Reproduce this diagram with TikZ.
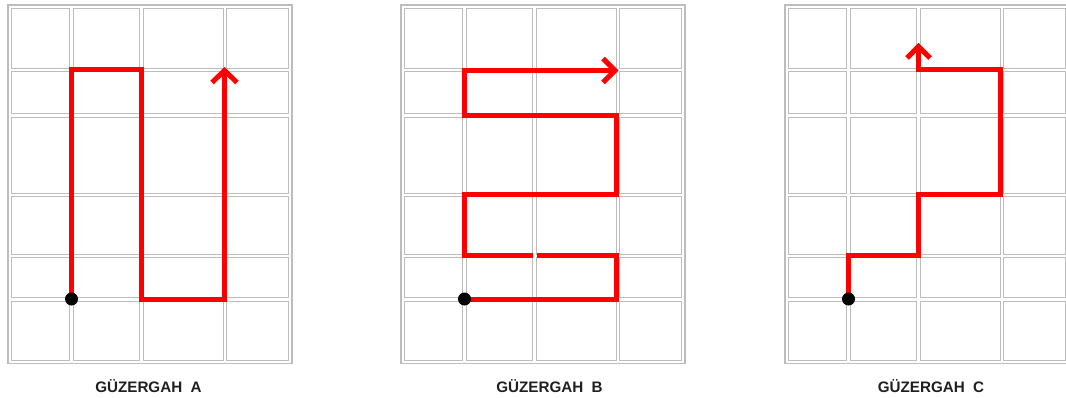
\documentclass[tikz,border=0pt]{standalone}
\usepackage{fontspec}
\setmainfont{Liberation Sans}
\begin{document}
\begin{tikzpicture}[x=1pt,y=-1pt,
  cell/.style={draw=black!26,line width=1.2pt},
  route/.style={draw=red,line width=5pt,line join=miter},
  tipv/.style={draw=red,line width=5pt,line join=miter,line cap=butt},
  startdot/.style={circle,fill=black,inner sep=0pt,minimum size=13pt},
  caption/.style={font=\bfseries\fontsize{15.2}{18}\selectfont,text=black!88,inner sep=0pt,anchor=base}]
\useasboundingbox (0,0) rectangle (1066,398);
\foreach \off in {0,393,777}{
  \begin{scope}[xshift=\off pt]
    \draw[cell] (8,5) rectangle (292,363.5);
    \foreach \xa/\xb in {9.5/71.5,71.5/141.5,141.5/225,225/290.5}
      \foreach \ya/\yb in {6.5/70,70/115.5,115.5/195,195/256,256/299.5,299.5/362.5}
        \draw[cell] (\xa+1.7,\ya+1.7) rectangle (\xb-1.7,\yb-1.7);
  \end{scope}
}
% Route A
\coordinate (sa) at (71.5,299);
\coordinate (ea) at (224.5,70.5);
\draw[route] (sa) -- (71.5,70) -- (141.5,70) -- (141.5,299) -- (224.5,299) -- (ea);
\draw[tipv] (212,82.5) -- (ea) -- (237,82.5);
\node[startdot] (da) at (sa) {};
% Route B
\begin{scope}[xshift=393pt]
\coordinate (sb) at (71.5,299);
\coordinate (eb) at (222,70.5);
\draw[route] (sb) -- (223.5,299) -- (223.5,256) -- (144,256);
\draw[route] (140,256) -- (71.5,256) -- (71.5,195) -- (223.5,195) -- (223.5,115.5) -- (71.5,115.5) -- (71.5,70.5) -- (eb);
\draw[tipv] (210,58.5) -- (eb) -- (210,82.5);
\node[startdot] (db) at (sb) {};
\end{scope}
% Route C
\begin{scope}[xshift=777pt]
\coordinate (sc) at (71.5,299);
\coordinate (ec) at (141.5,46.5);
\draw[route] (sc) -- (71.5,256) -- (141.5,256) -- (141.5,195) -- (223.5,195) -- (223.5,70) -- (141.5,70) -- (ec);
\draw[tipv] (130,58) -- (ec) -- (153,58);
\node[startdot] (dc) at (sc) {};
\end{scope}
\node[caption] (la) at (148.5,392) {GÜZERGAH\hspace{0.556em}A};
\node[caption] (lb) at (549.5,392) {GÜZERGAH\hspace{0.556em}B};
\node[caption] (lc) at (931,392) {GÜZERGAH\hspace{0.556em}C};
\end{tikzpicture}
\end{document}
